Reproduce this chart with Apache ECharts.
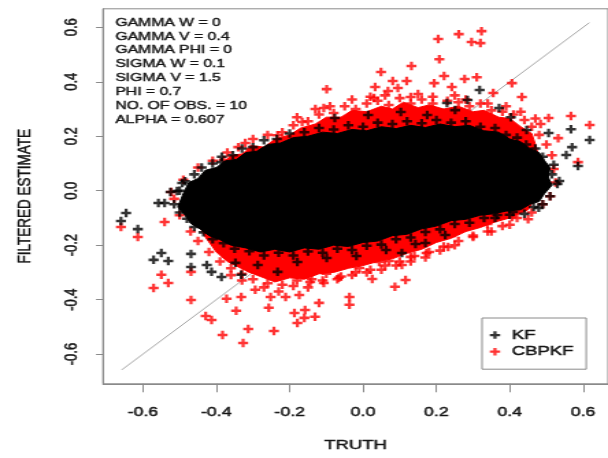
<!DOCTYPE html>
<html>
<head>
<meta charset="utf-8">
<script src="https://cdn.jsdelivr.net/npm/echarts@6/dist/echarts.min.js"></script>
<style>
  html, body { margin: 0; padding: 0; background: #fff; overflow: hidden; }
  /* the plot is laid out on a 444px canvas and widened to 608px */
  #chart { width: 444px; height: 458px; transform: scaleX(1.3694); transform-origin: 0 0; }
</style>
</head>
<body>
<div id="chart"></div>
<script>
// ---- axes -------------------------------------------------------------
const axisRange = [-0.709, 0.668];
const tickValues = [-0.6, -0.4, -0.2, 0.0, 0.2, 0.4, 0.6];

// ---- simulation settings printed in the corner -------------------------
const annotationLines = [
  'GAMMA W = 0',
  'GAMMA V = 0.4',
  'GAMMA PHI = 0',
  'SIGMA W = 0.1',
  'SIGMA V = 1.5',
  'PHI = 0.7',
  'NO. OF OBS. = 10',
  'ALPHA = 0.607'
];

// ---- 45 degree reference segment (truth = estimate) --------------------
const diagonal = [[-0.658, -0.658], [0.617, 0.617]];

// ---- saturated (fully overplotted) region of each estimator -------------
const kfCore = [
  [-0.505,-0.06],[-0.49,-0.01],[-0.475,0.03],[-0.45,0.045],[-0.43,0.075],[-0.40,0.085],
  [-0.375,0.11],[-0.345,0.115],[-0.32,0.14],[-0.29,0.145],[-0.26,0.17],[-0.225,0.175],
  [-0.19,0.195],[-0.15,0.20],[-0.11,0.215],[-0.07,0.21],[-0.03,0.225],[0.01,0.22],
  [0.05,0.235],[0.09,0.228],[0.13,0.24],[0.17,0.232],[0.21,0.245],[0.25,0.235],
  [0.29,0.24],[0.33,0.22],[0.37,0.215],[0.40,0.19],[0.43,0.18],[0.455,0.155],
  [0.48,0.14],[0.495,0.11],[0.51,0.085],[0.505,0.05],[0.515,0.02],[0.495,-0.01],
  [0.48,-0.04],[0.455,-0.05],[0.43,-0.07],[0.39,-0.075],[0.355,-0.085],[0.32,-0.09],
  [0.28,-0.105],[0.24,-0.11],[0.20,-0.13],[0.16,-0.14],[0.12,-0.16],[0.08,-0.165],
  [0.04,-0.185],[0.0,-0.19],[-0.04,-0.205],[-0.08,-0.20],[-0.12,-0.215],[-0.16,-0.21],
  [-0.20,-0.225],[-0.24,-0.215],[-0.28,-0.225],[-0.32,-0.21],[-0.36,-0.20],[-0.39,-0.18],
  [-0.42,-0.165],[-0.445,-0.14],[-0.47,-0.12],[-0.485,-0.09]
];
const cbpkfCore = [
  [-0.46,-0.06],[-0.44,0.03],[-0.40,0.075],[-0.36,0.13],[-0.33,0.135],[-0.30,0.165],
  [-0.27,0.16],[-0.24,0.19],[-0.20,0.205],[-0.17,0.23],[-0.13,0.245],[-0.10,0.27],
  [-0.06,0.27],[-0.03,0.295],[0.01,0.29],[0.05,0.31],[0.08,0.30],[0.11,0.325],
  [0.15,0.305],[0.18,0.315],[0.22,0.30],[0.26,0.31],[0.30,0.29],[0.33,0.295],
  [0.37,0.27],[0.40,0.265],[0.43,0.235],[0.46,0.21],[0.47,0.17],[0.48,0.12],
  [0.48,0.0],[0.45,-0.07],[0.40,-0.10],[0.36,-0.115],[0.32,-0.135],[0.28,-0.15],
  [0.24,-0.175],[0.20,-0.19],[0.16,-0.215],[0.12,-0.23],[0.08,-0.25],[0.04,-0.26],
  [0.0,-0.275],[-0.04,-0.285],[-0.08,-0.30],[-0.12,-0.305],[-0.16,-0.325],[-0.20,-0.32],
  [-0.24,-0.335],[-0.28,-0.315],[-0.31,-0.30],[-0.34,-0.28],[-0.37,-0.26],[-0.40,-0.225],
  [-0.43,-0.17],[-0.45,-0.12]
];

// ---- KF estimates on the rim of the cloud and outside it ---------------
const kfEdge = [
  [-0.515,-0.05],[-0.50,0.0],[-0.485,0.035],[-0.46,0.06],[-0.44,0.085],[-0.41,0.10],
  [-0.385,0.125],[-0.355,0.13],[-0.33,0.155],[-0.30,0.16],[-0.27,0.185],[-0.235,0.19],
  [-0.20,0.21],[-0.16,0.215],[-0.12,0.23],[-0.08,0.225],[-0.04,0.24],[0.0,0.235],
  [0.04,0.25],[0.08,0.245],[0.12,0.255],[0.16,0.248],[0.20,0.26],[0.24,0.25],
  [0.28,0.255],[0.32,0.235],[0.36,0.23],[0.39,0.205],[0.42,0.195],[0.445,0.17],
  [0.47,0.155],[0.49,0.125],[0.52,0.095],[0.515,0.06],[0.53,0.025],[0.51,-0.02],
  [0.49,-0.05],[0.465,-0.06],[0.44,-0.085],[0.40,-0.088],[0.36,-0.10],[0.33,-0.10],
  [0.29,-0.118],[0.25,-0.122],[0.21,-0.142],[0.17,-0.152],[0.13,-0.172],[0.09,-0.178],
  [0.05,-0.198],[0.01,-0.202],[-0.03,-0.218],[-0.07,-0.213],[-0.11,-0.228],[-0.15,-0.223],
  [-0.19,-0.238],[-0.23,-0.228],[-0.27,-0.238],[-0.31,-0.222],[-0.35,-0.213],[-0.38,-0.193],
  [-0.41,-0.178],[-0.435,-0.153],[-0.46,-0.133],[-0.48,-0.103],[-0.50,-0.08]
];
const kfScatter = [
  [0.318,0.370],[0.506,0.212],[0.567,0.226],[0.618,0.186],[0.570,0.160],
  [0.554,0.131],[0.586,0.091],[0.535,0.036],[0.479,-0.063],[0.409,-0.078],
  [-0.493,0.028],[-0.525,-0.005],[-0.507,-0.001],[-0.558,-0.045],[-0.541,-0.045],
  [-0.646,-0.082],[-0.660,-0.111],[-0.614,-0.141],[-0.550,-0.229],[-0.571,-0.254],
  [-0.531,-0.258],[-0.469,-0.232],[-0.469,-0.280],[-0.426,-0.273],[-0.413,-0.298],
  [-0.386,-0.317],[-0.348,-0.265],[-0.332,-0.309],[0.106,-0.229],[0.170,-0.192],
  [0.366,-0.089],[-0.386,0.105],[0.229,0.322],[0.285,0.333],[0.403,0.270],
  [0.446,0.223],[-0.077,0.267],[0.014,0.278],[0.103,0.289],[0.175,0.278],
  [0.251,0.296],[0.371,0.304],[-0.179,-0.262],[-0.099,-0.247],[-0.018,-0.240],
  [-0.287,-0.273],[-0.233,-0.298],[0.063,-0.218],[0.143,-0.196],[0.224,-0.163]
];

// ---- CBPKF estimates on the rim of the cloud and outside it ------------
const cbpkfEdge = [
  [-0.30,0.19],[-0.26,0.205],[-0.22,0.215],[-0.19,0.24],[-0.15,0.255],[-0.12,0.28],
  [-0.08,0.285],[-0.05,0.31],[-0.02,0.30],[0.01,0.32],[0.04,0.33],[0.07,0.315],
  [0.10,0.34],[0.13,0.32],[0.16,0.335],[0.19,0.32],[0.23,0.33],[0.26,0.325],
  [0.29,0.31],[0.32,0.32],[0.35,0.295],[0.38,0.29],[0.41,0.28],[0.44,0.26],
  [0.46,0.235],[0.48,0.205],[0.50,0.17],[0.515,0.13],[0.52,0.08],[0.525,0.03],
  [0.51,-0.02],[0.49,-0.05],[0.46,-0.08],[0.42,-0.10],[0.38,-0.13],[0.34,-0.15],
  [0.30,-0.165],[0.26,-0.185],[0.22,-0.205],[0.18,-0.225],[0.14,-0.24],[0.10,-0.26],
  [0.06,-0.275],[0.02,-0.29],[-0.02,-0.30],[-0.06,-0.315],[-0.10,-0.305],[-0.14,-0.325],
  [-0.18,-0.33],[-0.22,-0.345],[-0.26,-0.34],[-0.30,-0.325],[-0.33,-0.305],[-0.36,-0.285],
  [-0.39,-0.26],[-0.42,-0.225],[-0.45,-0.185],[-0.47,-0.15],[-0.50,-0.09],[-0.515,-0.03],
  [-0.49,0.04],[-0.45,0.085],[-0.41,0.11],[-0.37,0.14],[-0.34,0.16],
  [-0.10,0.24],[0.0,0.27],[0.12,0.29],[0.22,0.28],[0.33,0.26],
  [-0.20,-0.28],[-0.05,-0.26],[0.10,-0.21],[-0.30,-0.26],
  [-0.36,-0.31],[-0.33,-0.33],[-0.27,-0.355],[-0.23,-0.37],[-0.19,-0.35],[-0.15,-0.355],
  [-0.11,-0.33],[-0.07,-0.325],[-0.03,-0.31],[0.01,-0.30],[0.05,-0.29],[0.09,-0.275],
  [0.13,-0.26],[0.17,-0.245],[0.21,-0.22],[0.25,-0.20],[0.30,-0.17],[0.35,-0.15],
  [0.40,-0.125],[0.45,-0.105],
  [-0.18,0.27],[-0.13,0.30],[-0.09,0.31],[-0.03,0.335],[0.02,0.345],[0.06,0.35],
  [0.15,0.355],[0.19,0.345],[0.25,0.35],[0.28,0.335],[0.34,0.32],[0.39,0.31],
  [0.43,0.29],[0.47,0.265]
];
const cbpkfScatter = [
  [0.205,0.557],[0.261,0.575],[0.323,0.586],[0.296,0.546],[0.320,0.542],
  [0.208,0.483],[0.132,0.458],[0.049,0.436],[-0.099,0.373],[0.033,0.381],
  [0.081,0.403],[0.119,0.403],[0.095,0.377],[0.030,0.340],[0.068,0.366],
  [0.194,0.395],[0.221,0.421],[0.242,0.381],[0.277,0.410],[0.310,0.417],
  [0.406,0.395],[0.355,0.359],[0.433,0.344],[-0.107,0.304],[-0.166,0.252],
  [0.130,0.344],[0.506,0.267],[0.567,0.274],[0.618,0.241],[0.532,0.193],
  [0.586,0.105],[0.484,0.245],[0.492,0.039],[-0.233,0.204],[-0.321,0.175],
  [-0.305,0.153],[-0.380,0.113],[-0.523,-0.005],[-0.660,-0.133],[-0.614,-0.170],
  [-0.541,-0.115],[-0.550,-0.309],[-0.571,-0.357],[-0.531,-0.339],[-0.469,-0.401],
  [-0.429,-0.460],[-0.413,-0.475],[-0.383,-0.530],[-0.327,-0.559],[-0.313,-0.508],
  [-0.346,-0.441],[-0.372,-0.397],[-0.243,-0.515],[-0.257,-0.430],[-0.211,-0.390],
  [-0.187,-0.449],[-0.158,-0.438],[-0.131,-0.463],[-0.179,-0.486],[-0.120,-0.412],
  [-0.174,-0.383],[-0.469,-0.298],[-0.294,-0.364],[-0.332,-0.390],[-0.252,-0.390],
  [-0.144,-0.335],[-0.107,-0.339],[-0.066,-0.320],[-0.037,-0.390],[-0.037,-0.419],
  [0.025,-0.324],[0.087,-0.353],[0.116,-0.328],[0.106,-0.273],[0.130,-0.243],
  [0.173,-0.229],[0.232,-0.207],[0.071,-0.258],[0.044,-0.262],[-0.010,-0.284],
  [0.210,-0.155],[0.250,-0.155],[0.151,-0.170],[0.285,-0.119],[0.339,-0.122],
  [0.406,-0.097],[-0.160,-0.467]
];

// ---- styling ------------------------------------------------------------
const FONT = '"Liberation Sans", Arial, Helvetica, sans-serif';
const FRAME = '#8a8a8a';
const TEXT = '#141414';
const KF_COLOR = '#000000';
const CBPKF_COLOR = '#ff0000';
const MARK_SIZE = [7.3, 8.5];
// plotting character 3: a plus sign
const PLUS = 'path://M2.8,0H5.2V2.8H8V5.2H5.2V8H2.8V5.2H0V2.8H2.8Z';
// slight stroke on text so it carries the same weight as the printed labels
const heavy = { textBorderColor: TEXT, textBorderWidth: 0.45 };

function regionSeries(name, outline, color, z) {
  return {
    name: name,
    type: 'custom',
    coordinateSystem: 'cartesian2d',
    data: outline,
    encode: { x: 0, y: 1 },
    silent: true,
    z: z,
    renderItem: function (params, api) {
      if (params.dataIndex !== 0) return null;
      const pts = outline.map(function (p) { return api.coord(p); });
      return { type: 'polygon', shape: { points: pts }, style: { fill: color, stroke: color, lineWidth: 1 } };
    }
  };
}

const chart = echarts.init(document.getElementById('chart'));
chart.setOption({
  animation: false,
  backgroundColor: '#ffffff',
  grid: { left: 75.2, top: 8.8, width: 374.1, height: 375.2, show: true, borderColor: FRAME, borderWidth: 1 },
  xAxis: {
    type: 'value', min: axisRange[0], max: axisRange[1],
    name: 'TRUTH', nameLocation: 'middle', nameGap: 55,
    nameTextStyle: Object.assign({ fontFamily: FONT, fontSize: 13.5, color: TEXT }, heavy),
    splitLine: { show: false },
    axisLine: { show: true, onZero: false, lineStyle: { color: FRAME, width: 1 } },
    axisTick: { show: true, customValues: tickValues, length: 8.5, lineStyle: { color: FRAME, width: 1 } },
    axisLabel: Object.assign({ customValues: tickValues, margin: 22, fontFamily: FONT, fontSize: 13, color: TEXT,
      formatter: function (v) { return v.toFixed(1); } }, heavy)
  },
  yAxis: {
    type: 'value', min: axisRange[0], max: axisRange[1],
    name: 'FILTERED ESTIMATE', nameLocation: 'middle', nameGap: 50, nameRotate: 90,
    nameTextStyle: Object.assign({ fontFamily: FONT, fontSize: 13.5, color: TEXT }, heavy),
    splitLine: { show: false },
    axisLine: { show: true, onZero: false, lineStyle: { color: FRAME, width: 1 } },
    axisTick: { show: true, customValues: tickValues, length: 5.1, lineStyle: { color: FRAME, width: 1 } },
    axisLabel: Object.assign({ customValues: tickValues, rotate: 90, margin: 16.5, fontFamily: FONT, fontSize: 13, color: TEXT,
      formatter: function (v) { return v.toFixed(1); } }, heavy)
  },
  legend: {
    orient: 'vertical', left: 352, top: 318, z: 20,
    padding: [9.5, 9, 10, 5.7], itemWidth: 14.8, itemHeight: 7.5, itemGap: 1.7,
    borderColor: '#8a8a8a', borderWidth: 1, backgroundColor: '#ffffff',
    selectedMode: false,
    textStyle: Object.assign({ fontFamily: FONT, fontSize: 13.5, color: TEXT, lineHeight: 15 }, heavy),
    data: [{ name: 'KF', icon: PLUS }, { name: 'CBPKF', icon: PLUS }]
  },
  graphic: [{
    type: 'text', left: 84, top: 15.6, z: 20,
    style: { text: annotationLines.join('\n'), fontFamily: FONT, fontSize: 11.5, lineHeight: 13.86,
      fill: TEXT, stroke: TEXT, lineWidth: 0.4 }
  }],
  series: [
    { name: 'identity', type: 'line', data: diagonal, symbol: 'none', silent: true, z: 1,
      lineStyle: { color: '#a6a6a6', width: 1 } },
    regionSeries('CBPKF region', cbpkfCore, CBPKF_COLOR, 2),
    { name: 'CBPKF', type: 'scatter', data: cbpkfEdge.concat(cbpkfScatter), symbol: PLUS, symbolSize: MARK_SIZE,
      itemStyle: { color: CBPKF_COLOR }, silent: true, z: 3 },
    regionSeries('KF region', kfCore, KF_COLOR, 4),
    { name: 'KF', type: 'scatter', data: kfEdge.concat(kfScatter), symbol: PLUS, symbolSize: MARK_SIZE,
      itemStyle: { color: KF_COLOR }, silent: true, z: 5 }
  ]
});
</script>
</body>
</html>
